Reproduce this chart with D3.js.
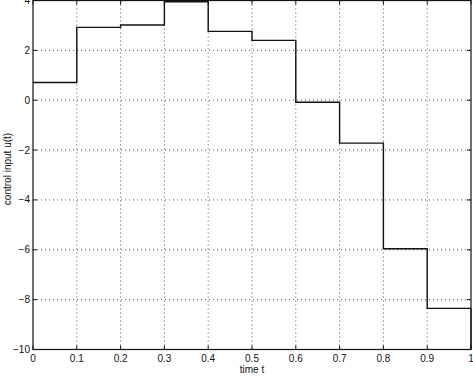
<!DOCTYPE html>
<html>
<head>
<meta charset="utf-8">
<script src="https://cdn.jsdelivr.net/npm/d3@7"></script>
<style>
  body { margin: 0; background: #fff; }
  text { font-family: "Liberation Sans", Helvetica, Arial, sans-serif; }
</style>
</head>
<body>
<svg width="473" height="378"></svg>
<script>
const width = 473;
const height = 378;

// step boundaries and control value on each interval
const times = [0, 0.1, 0.2, 0.3, 0.4, 0.5, 0.6, 0.7, 0.8, 0.9, 1.0];
const controls = [0.71, 2.92, 3.02, 3.95, 2.76, 2.4, -0.08, -1.72, -5.96, -8.35];
const xTicks = [0, 0.1, 0.2, 0.3, 0.4, 0.5, 0.6, 0.7, 0.8, 0.9, 1];
const yTicks = [-10, -8, -6, -4, -2, 0, 2, 4];

const margin = { left: 33, right: 2, top: 0.5, bottom: 28.5 };

const x = d3.scaleLinear().domain([0, 1]).range([margin.left, width - margin.right]);
const y = d3.scaleLinear().domain([-10, 4]).range([height - margin.bottom, margin.top]);

const svg = d3.select('svg');

// dotted grid
const grid = svg.append('g')
  .attr('stroke', '#222')
  .attr('stroke-width', 0.8)
  .attr('stroke-dasharray', '1,3');

grid.selectAll('line.v')
  .data(xTicks.slice(1, -1))
  .enter().append('line')
    .attr('x1', d => x(d)).attr('x2', d => x(d))
    .attr('y1', y(-10)).attr('y2', y(4));

grid.selectAll('line.h')
  .data(yTicks.slice(1, -1))
  .enter().append('line')
    .attr('y1', d => y(d)).attr('y2', d => y(d))
    .attr('x1', x(0)).attr('x2', x(1));

// frame
svg.append('rect')
  .attr('x', x(0)).attr('y', y(4))
  .attr('width', x(1) - x(0)).attr('height', y(-10) - y(4))
  .attr('fill', 'none')
  .attr('stroke', '#111')
  .attr('stroke-width', 1.2);

// inner ticks, all four sides
const tickLen = 4;
const ticks = svg.append('g').attr('stroke', '#111').attr('stroke-width', 1);
xTicks.forEach(t => {
  ticks.append('line').attr('x1', x(t)).attr('x2', x(t)).attr('y1', y(-10)).attr('y2', y(-10) - tickLen);
  ticks.append('line').attr('x1', x(t)).attr('x2', x(t)).attr('y1', y(4)).attr('y2', y(4) + tickLen);
});
yTicks.forEach(t => {
  ticks.append('line').attr('y1', y(t)).attr('y2', y(t)).attr('x1', x(0)).attr('x2', x(0) + tickLen);
  ticks.append('line').attr('y1', y(t)).attr('y2', y(t)).attr('x1', x(1)).attr('x2', x(1) - tickLen);
});

// tick labels
svg.append('g').selectAll('text')
  .data(xTicks)
  .enter().append('text')
    .attr('x', d => x(d))
    .attr('y', y(-10) + 12)
    .attr('text-anchor', 'middle')
    .attr('font-size', 10)
    .attr('fill', '#111')
    .text(d => d);

svg.append('g').selectAll('text')
  .data(yTicks)
  .enter().append('text')
    .attr('x', x(0) - 3)
    .attr('y', d => y(d) + 3.5)
    .attr('text-anchor', 'end')
    .attr('font-size', 10)
    .attr('fill', '#111')
    .text(d => d < 0 ? '\u2212' + Math.abs(d) : d);

// axis titles
svg.append('text')
  .attr('x', x(0.5))
  .attr('y', height - 5)
  .attr('text-anchor', 'middle')
  .attr('font-size', 10)
  .attr('fill', '#111')
  .text('time t');

svg.append('text')
  .attr('transform', `translate(11, 169) rotate(-90)`)
  .attr('text-anchor', 'middle')
  .attr('font-size', 10)
  .attr('fill', '#111')
  .text('control input u(t)');

// piecewise-constant control
const steps = controls.map((u, i) => ({ t: times[i], u }));
steps.push({ t: times[times.length - 1], u: controls[controls.length - 1] });

const line = d3.line()
  .x(d => x(d.t))
  .y(d => y(d.u))
  .curve(d3.curveStepAfter);

svg.append('path')
  .datum(steps)
  .attr('fill', 'none')
  .attr('stroke', '#111')
  .attr('stroke-width', 1.4)
  .attr('d', line);

// closing vertical at t = 1 down to the axis
svg.append('line')
  .attr('x1', x(1)).attr('x2', x(1))
  .attr('y1', y(controls[controls.length - 1])).attr('y2', y(-10))
  .attr('stroke', '#111').attr('stroke-width', 1.2);
</script>
</body>
</html>
